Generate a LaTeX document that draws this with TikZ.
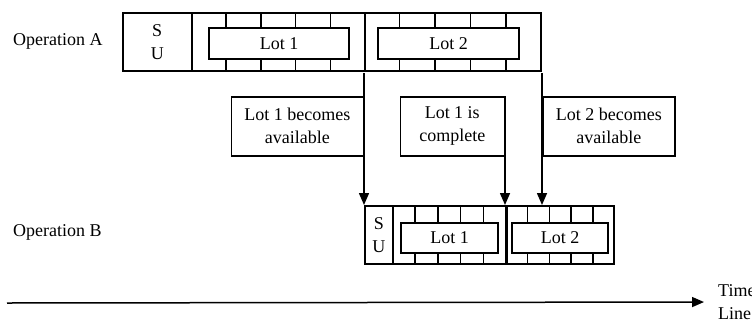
\documentclass[tikz,border=0pt]{standalone}
\usepackage{fontspec}
\setmainfont{Liberation Serif}
\usetikzlibrary{arrows.meta,calc,positioning}

\begin{document}
\begin{tikzpicture}[x=1pt,y=-1pt,
  font=\fontsize{18}{23}\selectfont,
  cell/.style={draw,line width=1.5pt,inner sep=0pt,anchor=north west,minimum height=58pt,align=center},
  lotbox/.style={draw,line width=1.5pt,inner sep=0pt,minimum height=31pt},
  eventbox/.style={draw,line width=1.5pt,inner sep=0pt,minimum height=59pt,align=center},
  tick/.style={line width=1.5pt},
  arr/.style={line width=1.5pt,-{Triangle[length=12pt,width=10pt]}}]
\useasboundingbox (0,0) rectangle (752,322);

% Operation A
\node[anchor=west,inner sep=0pt] (opA) at (13,41) {Operation A};
\node[cell,minimum width=69pt] (suA) at (122,12) {S\\U};
\node[cell,minimum width=173pt] (secA1) at (191,12) {};
\node[cell,minimum width=176pt] (secA2) at (364,12) {};
\node[lotbox,minimum width=140pt] (lotA1) at (279,43.5) {Lot 1};
\node[lotbox,minimum width=141pt] (lotA2) at (448.5,43.5) {Lot 2};

% Operation B
\node[anchor=west,inner sep=0pt] (opB) at (13,232) {Operation B};
\node[cell,minimum width=28pt] (suB) at (364,205) {S\\U};
\node[cell,minimum width=113pt] (secB1) at (392,205) {};
\node[cell,minimum width=107pt] (secB2) at (506,205) {};
\node[lotbox,minimum width=97pt,minimum height=30pt] (lotB1) at (449.5,238) {Lot 1};
\node[lotbox,minimum width=96pt,minimum height=30pt] (lotB2) at (560,238) {Lot 2};

% ticks
\foreach \sec/\lot in {secA1/lotA1,secA2/lotA2,secB1/lotB1,secB2/lotB2}
  \foreach \i in {1,...,4} {
    \draw[tick] ($(\sec.north west)!\i/5!(\sec.north east)$) coordinate (t) -- (t |- \lot.north);
    \draw[tick] ($(\sec.south west)!\i/5!(\sec.south east)$) coordinate (b) -- (b |- \lot.south);
  }

% events
\node[eventbox,anchor=north east,minimum width=132pt] (avl1) at (364,96) {Lot 1 becomes\\available};
\node[eventbox,anchor=north east,minimum width=104pt] (cmp1) at (505,96) {Lot 1 is\\complete};
\node[eventbox,anchor=north west,minimum width=132pt] (avl2) at (542,96) {Lot 2 becomes\\available};

\coordinate (a1) at (364,73);
\coordinate (a3) at (542,73);
\draw[arr] (a1) -- (a1 |- suB.north);
\draw[arr] (cmp1.north east) -- (cmp1.north east |- secB1.north);
\draw[arr] (a3) -- (a3 |- secB2.north);

% time line
\coordinate (t0) at (7,303);
\node[anchor=west,inner sep=0pt,align=left] (tl) at (718,302) {Time\\Line};
\draw[arr,shorten >=14pt] (t0) -- (tl.west);
\end{tikzpicture}
\end{document}
